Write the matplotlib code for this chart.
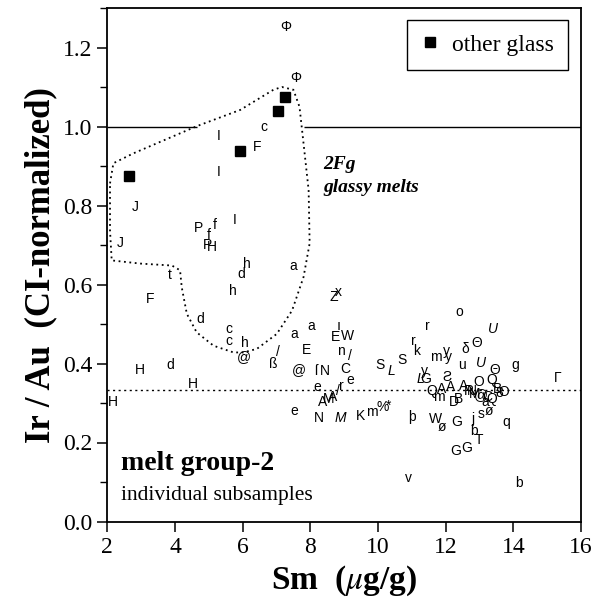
import matplotlib
matplotlib.use("Agg")
import matplotlib.pyplot as plt
from matplotlib.lines import Line2D
from matplotlib.ticker import MultipleLocator

plt.rcParams["mathtext.fontset"] = "stix"

# ------------------------------------------------------------------------------
# other glass (filled squares)
glass_sm = [2.64, 5.93, 7.04, 7.24]
glass_irau = [0.875, 0.939, 1.040, 1.074]

# individual subsamples, upright letter symbols
sub_labels = [
    "Φ", "Φ", "c", "I", "F", "I", "J", "P", "f", "I", "f", "H", "P", "J",
    "h", "d", "a", "t", "F", "h", "d", "c", "c", "h", "@", "a", "a", "Z",
    "x", "E", "ı", "W", "E", "n", "/", "ß", "/", "@", "N", "ſ", "C", "e",
    "H", "d", "H", "H", "e", "e", "N", "A", "M", "A", "/", "r", "K", "m",
    "%", "*", "þ", "W", "ø", "G", "j", "s", "ø", "q", "b", "T", "G", "G",
    "v", "b", "S", "S", "k", "r", "r", "m", "y", "y", "o", "G", "y", "Ƨ",
    "Θ", "δ", "u", "Θ", "g", "Γ", "Q", "A", "m", "A", "D", "B", "A", "R",
    "N", "M", "@", "O", "Q", "B", "O", "C", "a", "8", "Q",
]
sub_sm = [
    7.28, 7.58, 6.64, 5.28, 6.44, 5.28, 2.82, 4.71, 5.17, 5.76, 4.99, 5.10, 4.97, 2.38,
    6.12, 5.96, 7.50, 3.86, 3.28, 5.71, 4.76, 5.60, 5.60, 6.07, 6.04, 8.03, 7.52, 8.69,
    8.83, 8.74, 8.83, 9.10, 7.88, 8.91, 9.16, 6.91, 7.05, 7.65, 8.44, 8.17, 9.03, 9.18,
    2.97, 3.86, 4.53, 2.16, 8.20, 7.53, 8.24, 8.35, 8.54, 8.65, 8.83, 8.92, 9.48, 9.82,
    10.15, 10.31, 11.01, 11.70, 11.89, 12.34, 12.81, 13.06, 13.27, 13.80, 12.83, 13.00, 12.29, 12.61,
    10.91, 14.16, 10.07, 10.71, 11.13, 11.05, 11.45, 11.70, 12.02, 12.09, 12.41, 11.40, 11.37, 12.04,
    12.93, 12.58, 12.49, 13.44, 14.05, 15.30, 11.60, 11.89, 11.79, 12.14, 12.24, 12.39, 12.53, 12.68,
    12.78, 12.85, 13.03, 12.98, 13.37, 13.52, 13.72, 13.22, 13.17, 13.59, 13.35,
]
sub_irau = [
    1.252, 1.122, 1.000, 0.977, 0.949, 0.885, 0.796, 0.742, 0.750, 0.763, 0.725, 0.695, 0.701, 0.705,
    0.653, 0.626, 0.646, 0.623, 0.564, 0.583, 0.513, 0.488, 0.458, 0.451, 0.416, 0.494, 0.475, 0.568,
    0.580, 0.467, 0.494, 0.469, 0.435, 0.431, 0.418, 0.400, 0.428, 0.384, 0.382, 0.382, 0.386, 0.357,
    0.384, 0.397, 0.348, 0.303, 0.341, 0.279, 0.261, 0.303, 0.311, 0.316, 0.331, 0.344, 0.268, 0.276,
    0.289, 0.293, 0.265, 0.259, 0.240, 0.251, 0.259, 0.272, 0.280, 0.253, 0.228, 0.206, 0.179, 0.187,
    0.111, 0.098, 0.395, 0.410, 0.431, 0.458, 0.494, 0.416, 0.431, 0.416, 0.530, 0.361, 0.382, 0.365,
    0.451, 0.437, 0.397, 0.384, 0.395, 0.363, 0.331, 0.336, 0.314, 0.340, 0.302, 0.310, 0.344, 0.331,
    0.331, 0.324, 0.319, 0.352, 0.357, 0.336, 0.327, 0.314, 0.302, 0.326, 0.311,
]

# individual subsamples, italic letter symbols
ital_labels = ["M", "L", "L", "U", "U"]
ital_sm = [8.88, 10.41, 11.25, 13.40, 13.03]
ital_irau = [0.263, 0.382, 0.361, 0.488, 0.401]

# outline of the 2Fg glassy melts field
field_sm = [2.08, 2.18, 2.77, 4.65, 5.93, 6.91, 7.16, 7.50, 7.68, 7.80, 7.95, 7.98, 7.80,
            7.46, 7.01, 6.42, 6.02, 5.73, 5.14, 4.64, 4.35, 4.20, 4.15, 3.91, 2.97, 2.13,
            2.08, 2.08]
field_irau = [0.856, 0.907, 0.932, 1.001, 1.042, 1.093, 1.100, 1.093, 1.050, 0.957, 0.839,
              0.704, 0.619, 0.534, 0.475, 0.437, 0.428, 0.428, 0.445, 0.479, 0.526, 0.593,
              0.636, 0.648, 0.653, 0.661, 0.737, 0.856]

ci_ratio = 1.0        # chondritic Ir/Au
group_mean = 0.333    # melt group-2 mean Ir/Au
# ------------------------------------------------------------------------------

serif = "Liberation Serif"
sans = "Liberation Sans"

fig = plt.figure(figsize=(5.95, 6.09), dpi=100)
ax = fig.add_axes([107.3 / 595, 1 - 521.5 / 609, (581 - 107.3) / 595, (521.5 - 8) / 609])
ax.set_xlim(2, 16)
ax.set_ylim(0, 1.3)

# reference lines (the CI line is broken where the glass field sits)
ax.hlines(ci_ratio, 2, 4.65, color="black", lw=1.0)
ax.hlines(ci_ratio, 7.82, 16, color="black", lw=1.0)
ax.axhline(group_mean, color="black", lw=1.0, ls=(0, (1.5, 2.5)))

ax.plot(field_sm, field_irau, color="black", lw=1.3, ls=(0, (1, 2)))

ax.plot(glass_sm, glass_irau, "s", color="black", ms=6.5, ls="none")

for lab, x, y in zip(sub_labels, sub_sm, sub_irau):
    ax.text(x, y, lab, ha="center", va="center", fontsize=10, family=[sans, "DejaVu Sans"])
for lab, x, y in zip(ital_labels, ital_sm, ital_irau):
    ax.text(x, y, lab, ha="center", va="center", fontsize=10, style="italic", family=sans)

ax.text(8.39, 0.905, "2Fg", fontsize=14, family=serif, weight="bold", style="italic",
        ha="left", va="center")
ax.text(8.39, 0.845, "glassy melts", fontsize=14, family=serif, weight="bold", style="italic",
        ha="left", va="center")
ax.text(2.4, 0.148, "melt group-2", fontsize=20, family=serif, weight="bold",
        ha="left", va="center")
ax.text(2.4, 0.065, "individual subsamples", fontsize=15.5, family=serif,
        ha="left", va="center")

handle = Line2D([], [], marker="s", color="black", ls="none", ms=6.5)
leg = ax.legend([handle], ["other glass"], loc="upper right",
                bbox_to_anchor=(1 - 13 / 473.7, 1 - 12 / 513.5), borderaxespad=0,
                prop={"family": serif, "size": 17}, fancybox=False, framealpha=1,
                edgecolor="black", handlelength=0.7, handletextpad=0.6, borderpad=0.6)
leg.get_frame().set_linewidth(1.0)

ax.set_xticks(range(2, 17, 2))
ax.yaxis.set_major_locator(MultipleLocator(0.2))
ax.yaxis.set_minor_locator(MultipleLocator(0.1))
ax.set_yticks([0, 0.2, 0.4, 0.6, 0.8, 1.0, 1.2])
ax.set_yticklabels(["0.0", "0.2", "0.4", "0.6", "0.8", "1.0", "1.2"])
ax.tick_params(direction="out", length=7, width=1.1, labelsize=17, pad=4)
ax.tick_params(which="minor", direction="out", length=5, width=1.0)
for t in ax.get_xticklabels() + ax.get_yticklabels():
    t.set_family(serif)
for s in ax.spines.values():
    s.set_linewidth(1.3)

ax.set_xlabel(r"Sm  ($\mu$g/g)", fontsize=24, family=serif, weight="bold", labelpad=4)
ax.set_ylabel("Ir / Au  (CI-normalized)", fontsize=25, family=serif, weight="bold", labelpad=4)

fig.savefig("out.png", dpi=100)
